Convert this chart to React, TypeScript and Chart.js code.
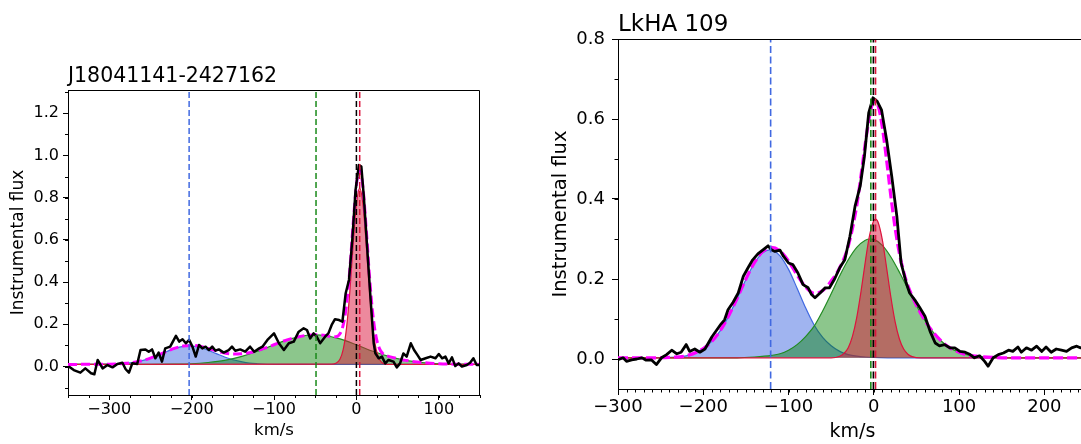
import React, { useEffect, useRef } from 'react';
import { Chart, registerables } from 'chart.js';

Chart.register(...registerables);

const FONT = '"DejaVu Sans", "Liberation Sans", sans-serif';

// ---------------- Left panel: J18041141-2427162 ----------------
const LEFT_TITLE = 'J18041141-2427162';
const LEFT_X_RANGE = [-350, 150];
const LEFT_Y_RANGE = [-0.135, 1.31];
const LEFT_X_TICKS = [-300, -200, -100, 0, 100];
const LEFT_Y_TICKS = [0, 0.2, 0.4, 0.6, 0.8, 1.0, 1.2];
const LEFT_BASELINE = 0.01;
// component centres: blue, green, black (rest), red
const LEFT_CENTERS = [-203, -49, 0, 4];

const LEFT_SPECTRUM = [
  [-349, 0.0], [-343, -0.017], [-335, -0.029], [-329, -0.009], [-322, -0.032], [-318, -0.037],
  [-314, 0.031], [-308, -0.009], [-302, 0.007], [-296, -0.004], [-290, 0.012], [-284, 0.018],
  [-280, -0.013], [-276, -0.029], [-272, 0.015], [-266, 0.012], [-262, 0.078], [-256, 0.081],
  [-252, 0.07], [-248, 0.081], [-244, 0.039], [-240, 0.066], [-236, 0.023], [-232, 0.086],
  [-226, 0.094], [-219, 0.145], [-215, 0.118], [-211, 0.129], [-207, 0.11], [-203, 0.126],
  [-199, 0.094], [-195, 0.047], [-191, 0.102], [-187, 0.086], [-183, 0.094], [-179, 0.078],
  [-175, 0.094], [-171, 0.075], [-167, 0.081], [-161, 0.066], [-155, 0.078], [-151, 0.094],
  [-147, 0.075], [-141, 0.081], [-135, 0.07], [-129, 0.094], [-124, 0.07], [-118, 0.086],
  [-114, 0.094], [-108, 0.126], [-100, 0.157], [-94, 0.11], [-88, 0.078], [-82, 0.11],
  [-76, 0.118], [-70, 0.165], [-64, 0.181], [-60, 0.173], [-56, 0.133], [-52, 0.157],
  [-48, 0.141], [-44, 0.11], [-38, 0.141], [-34, 0.157], [-30, 0.197], [-26, 0.224],
  [-21, 0.22], [-17, 0.212], [-13, 0.347], [-9, 0.41], [-5, 0.6], [-1, 0.837], [3, 0.955],
  [6, 0.947], [9, 0.805], [13, 0.568], [17, 0.331], [21, 0.11], [23, 0.062], [27, 0.039],
  [31, 0.047], [35, 0.015], [39, 0.031], [45, 0.023], [49, -0.004], [53, 0.015], [57, 0.062],
  [61, 0.047], [66, 0.11], [70, 0.078], [74, 0.055], [78, 0.031], [84, 0.039], [90, 0.047],
  [96, 0.039], [100, 0.059], [104, 0.039], [108, 0.047], [112, 0.015], [116, 0.043],
  [120, 0.002], [124, 0.015], [128, 0.0], [134, 0.007], [138, 0.018], [142, 0.039],
  [146, 0.007], [150, 0.007],
];

const LEFT_FIT = [
  [-350, 0.01], [-300, 0.011], [-280, 0.015], [-260, 0.028], [-250, 0.04], [-240, 0.055],
  [-230, 0.072], [-220, 0.087], [-210, 0.097], [-200, 0.1], [-190, 0.096], [-180, 0.086],
  [-170, 0.074], [-160, 0.064], [-150, 0.059], [-140, 0.06], [-130, 0.065], [-120, 0.075],
  [-110, 0.088], [-100, 0.103], [-90, 0.118], [-80, 0.131], [-70, 0.141], [-60, 0.148],
  [-50, 0.15], [-40, 0.148], [-30, 0.142], [-25, 0.141], [-20, 0.155], [-16, 0.197],
  [-12, 0.292], [-8, 0.458], [-4, 0.672], [0, 0.859], [4, 0.932], [8, 0.846], [12, 0.647],
  [16, 0.421], [20, 0.244], [24, 0.138], [28, 0.085], [32, 0.061], [36, 0.052], [40, 0.047],
  [50, 0.037], [60, 0.029], [70, 0.023], [80, 0.019], [100, 0.013], [120, 0.011], [150, 0.01],
];

const LEFT_BLUE = [
  [-350, 0.01], [-300, 0.011], [-280, 0.015], [-270, 0.02], [-260, 0.028], [-250, 0.04],
  [-240, 0.055], [-230, 0.071], [-220, 0.086], [-210, 0.095], [-200, 0.097], [-190, 0.09],
  [-180, 0.077], [-170, 0.061], [-160, 0.045], [-150, 0.032], [-140, 0.023], [-130, 0.016],
  [-120, 0.013], [-100, 0.01], [150, 0.01],
];

const LEFT_GREEN = [
  [-350, 0.01], [-250, 0.01], [-220, 0.011], [-200, 0.013], [-180, 0.019], [-160, 0.029],
  [-140, 0.047], [-120, 0.072], [-100, 0.103], [-80, 0.131], [-60, 0.148], [-50, 0.15],
  [-40, 0.148], [-20, 0.131], [0, 0.103], [20, 0.072], [40, 0.047], [60, 0.029], [80, 0.019],
  [100, 0.013], [120, 0.011], [150, 0.01],
];

const LEFT_RED = [
  [-350, 0.01], [-30, 0.011], [-25, 0.015], [-20, 0.034], [-16, 0.081], [-12, 0.182],
  [-8, 0.353], [-4, 0.573], [0, 0.766], [4, 0.845], [8, 0.766], [12, 0.573], [16, 0.353],
  [20, 0.182], [24, 0.081], [28, 0.034], [32, 0.015], [36, 0.011], [40, 0.01], [150, 0.01],
];

// ---------------- Right panel: LkHA 109 ----------------
const RIGHT_TITLE = 'LkHA 109';
const RIGHT_X_RANGE = [-300, 250];
const RIGHT_Y_RANGE = [-0.075, 0.8];
const RIGHT_X_TICKS = [-300, -200, -100, 0, 100, 200];
const RIGHT_Y_TICKS = [0, 0.2, 0.4, 0.6, 0.8];
const RIGHT_BASELINE = 0.003;
const RIGHT_CENTERS = [-121, -3.5, -0.5, 2];

const RIGHT_SPECTRUM = [
  [-300, -0.002], [-294, 0.003], [-290, -0.006], [-284, -0.002], [-278, 0.0], [-272, 0.003],
  [-267, -0.003], [-261, -0.002], [-255, -0.014], [-249, 0.003], [-243, 0.011], [-237, 0.022],
  [-231, 0.013], [-226, 0.017], [-220, 0.036], [-216, 0.019], [-210, 0.025], [-204, 0.017],
  [-198, 0.025], [-194, 0.04], [-190, 0.055], [-184, 0.073], [-179, 0.088], [-175, 0.098],
  [-171, 0.123], [-165, 0.142], [-159, 0.165], [-153, 0.207], [-147, 0.23], [-142, 0.248],
  [-136, 0.263], [-130, 0.273], [-124, 0.283], [-120, 0.273], [-116, 0.269], [-110, 0.272],
  [-106, 0.257], [-100, 0.24], [-95, 0.236], [-89, 0.215], [-83, 0.186], [-77, 0.178],
  [-73, 0.161], [-69, 0.153], [-63, 0.165], [-57, 0.178], [-52, 0.178], [-46, 0.2],
  [-40, 0.228], [-34, 0.248], [-28, 0.307], [-22, 0.382], [-16, 0.432], [-11, 0.507],
  [-6, 0.615], [-1, 0.653], [4, 0.644], [9, 0.623], [15, 0.548], [21, 0.457], [27, 0.357],
  [32, 0.24], [38, 0.19], [42, 0.165], [48, 0.148], [54, 0.128], [60, 0.107], [66, 0.069],
  [72, 0.04], [77, 0.033], [83, 0.036], [89, 0.028], [95, 0.028], [101, 0.019], [107, 0.017],
  [113, 0.011], [118, 0.003], [124, 0.008], [130, -0.006], [134, -0.018], [140, 0.003],
  [146, 0.011], [152, 0.015], [158, 0.022], [163, 0.019], [169, 0.03], [173, 0.017],
  [179, 0.028], [185, 0.022], [191, 0.032], [197, 0.019], [202, 0.03], [208, 0.017],
  [214, 0.025], [220, 0.022], [226, 0.019], [232, 0.028], [238, 0.032], [242, 0.028],
  [248, 0.03],
];

const RIGHT_FIT = [
  [-300, 0.003], [-260, 0.003], [-240, 0.004], [-220, 0.008], [-200, 0.026], [-190, 0.044],
  [-180, 0.071], [-170, 0.109], [-160, 0.153], [-150, 0.2], [-140, 0.241], [-130, 0.269],
  [-120, 0.279], [-110, 0.27], [-100, 0.245], [-90, 0.21], [-80, 0.18], [-70, 0.164],
  [-60, 0.171], [-50, 0.195], [-40, 0.228], [-30, 0.282], [-20, 0.384], [-15, 0.459],
  [-10, 0.539], [-5, 0.607], [0, 0.643], [5, 0.633], [10, 0.579], [15, 0.497], [20, 0.407],
  [25, 0.327], [30, 0.264], [35, 0.218], [40, 0.183], [45, 0.157], [50, 0.134], [60, 0.096],
  [70, 0.066], [80, 0.043], [90, 0.027], [100, 0.017], [110, 0.01], [120, 0.007],
  [140, 0.004], [160, 0.003], [250, 0.003],
];

const RIGHT_BLUE = [
  [-300, 0.003], [-240, 0.004], [-220, 0.008], [-200, 0.026], [-190, 0.044], [-180, 0.071],
  [-170, 0.108], [-160, 0.153], [-150, 0.199], [-140, 0.24], [-130, 0.266], [-122, 0.273],
  [-110, 0.258], [-100, 0.224], [-90, 0.177], [-80, 0.128], [-70, 0.085], [-60, 0.054],
  [-50, 0.033], [-40, 0.019], [-30, 0.011], [-20, 0.007], [-10, 0.005], [0, 0.004],
  [20, 0.003], [250, 0.003],
];

const RIGHT_GREEN = [
  [-300, 0.003], [-160, 0.003], [-140, 0.005], [-120, 0.009], [-110, 0.013], [-100, 0.022],
  [-90, 0.036], [-80, 0.056], [-70, 0.082], [-60, 0.12], [-50, 0.163], [-40, 0.208],
  [-30, 0.248], [-20, 0.279], [-10, 0.297], [-4, 0.3], [0, 0.299], [10, 0.284], [20, 0.255],
  [30, 0.217], [40, 0.175], [50, 0.133], [60, 0.096], [70, 0.066], [80, 0.043], [90, 0.027],
  [100, 0.017], [110, 0.01], [120, 0.007], [140, 0.004], [160, 0.003], [250, 0.003],
];

const RIGHT_RED = [
  [-300, 0.003], [-50, 0.003], [-40, 0.007], [-35, 0.014], [-30, 0.028], [-25, 0.057],
  [-20, 0.104], [-15, 0.169], [-10, 0.243], [-5, 0.309], [0, 0.346], [2, 0.35], [5, 0.342],
  [10, 0.298], [15, 0.228], [20, 0.155], [25, 0.093], [30, 0.05], [35, 0.025], [40, 0.012],
  [45, 0.006], [55, 0.003], [250, 0.003],
];

// ---------------- styling ----------------
const COLORS = {
  blue: '#4169E1',
  blueFill: 'rgba(65,105,225,0.5)',
  green: '#228B22',
  greenFill: 'rgba(0,128,0,0.45)',
  red: '#DC143C',
  redFill: 'rgba(220,20,60,0.5)',
  fit: '#FF00FF',
  data: '#000000',
};
const V_COLORS = [COLORS.blue, '#1a8a1a', '#000000', COLORS.red];

const LEFT_STYLE = {
  canvasLeft: 0, canvasWidth: 500,
  padTop: 90, padRight: 20, yAxisWidth: 68, xAxisHeight: 49,
  tickSize: 16, labelSize: 16.5, ylabelSize: 17, titleSize: 20.5, titleBaseline: 81.5,
  majorLen: 5, minorLen: 3, xTickPad: 0, yTickPad: 4, xTitlePad: 3, yTitlePad: 8,
  xMinor: 25, yMinor: 0.1,
  dataWidth: 2.5, fitWidth: 3, fitDash: [9, 4], vWidth: 1.5, vDash: [6, 3],
};
const RIGHT_STYLE = {
  canvasLeft: 540, canvasWidth: 560,
  padTop: 39, padRight: 13, yAxisWidth: 78, xAxisHeight: 55,
  tickSize: 18, labelSize: 19, ylabelSize: 19.5, titleSize: 23, titleBaseline: 31,
  majorLen: 6, minorLen: 3.5, xTickPad: 1.5, yTickPad: 7, xTitlePad: 1, yTitlePad: 9,
  xMinor: 10, yMinor: 0.1,
  dataWidth: 2.8, fitWidth: 3.2, fitDash: [10, 4], vWidth: 1.6, vDash: [7, 3.5],
};

const PANELS = [
  {
    title: LEFT_TITLE, xRange: LEFT_X_RANGE, yRange: LEFT_Y_RANGE, xTicks: LEFT_X_TICKS,
    yTicks: LEFT_Y_TICKS, baseline: LEFT_BASELINE, centers: LEFT_CENTERS,
    spectrum: LEFT_SPECTRUM, fit: LEFT_FIT, blue: LEFT_BLUE, green: LEFT_GREEN, red: LEFT_RED,
    s: LEFT_STYLE,
  },
  {
    title: RIGHT_TITLE, xRange: RIGHT_X_RANGE, yRange: RIGHT_Y_RANGE, xTicks: RIGHT_X_TICKS,
    yTicks: RIGHT_Y_TICKS, baseline: RIGHT_BASELINE, centers: RIGHT_CENTERS,
    spectrum: RIGHT_SPECTRUM, fit: RIGHT_FIT, blue: RIGHT_BLUE, green: RIGHT_GREEN, red: RIGHT_RED,
    s: RIGHT_STYLE,
  },
];

const toXY = (pts: number[][]) => pts.map(([x, y]) => ({ x, y }));
const fmtX = (v: number) => (v < 0 ? '\u2212' + Math.abs(v) : String(v));
const fmtY = (v: number) => Number(v).toFixed(1);

const framePlugin = {
  id: 'frameAndMinor',
  afterDraw(chart: any, _args: any, opts: any) {
    const { ctx, chartArea, scales } = chart;
    const { left, right, top, bottom } = chartArea;
    ctx.save();
    ctx.strokeStyle = '#000';
    ctx.lineWidth = 1;
    const t = Math.round(top) + 0.5;
    const r = Math.round(right) - 0.5;
    ctx.beginPath();
    ctx.moveTo(left, t);
    ctx.lineTo(r, t);
    ctx.lineTo(r, bottom);
    ctx.stroke();
    // minor ticks
    const xs = scales.x;
    const ys = scales.y;
    const bx = Math.round(bottom);
    for (let i = Math.ceil(xs.min / opts.xStep); i * opts.xStep <= xs.max + 1e-9; i++) {
      const px = Math.round(xs.getPixelForValue(i * opts.xStep)) + 0.5;
      ctx.beginPath();
      ctx.moveTo(px, bx);
      ctx.lineTo(px, bx + opts.len);
      ctx.stroke();
    }
    const lx = Math.round(left);
    for (let i = Math.ceil(ys.min / opts.yStep - 1e-9); i * opts.yStep <= ys.max + 1e-9; i++) {
      const py = Math.round(ys.getPixelForValue(i * opts.yStep)) + 0.5;
      ctx.beginPath();
      ctx.moveTo(lx, py);
      ctx.lineTo(lx - opts.len, py);
      ctx.stroke();
    }
    // panel title
    ctx.fillStyle = '#000';
    ctx.font = `${opts.titleSize}px ${FONT}`;
    ctx.textAlign = 'left';
    ctx.textBaseline = 'alphabetic';
    ctx.fillText(opts.title, left, opts.titleBaseline);
    ctx.restore();
  },
};

function buildConfig(p: any) {
  const s = p.s;
  const [xMin, xMax] = p.xRange;
  const [yMin, yMax] = p.yRange;
  const comp = (pts: number[][], line: string, fill: string, order: number) => ({
    data: toXY(pts),
    borderColor: line,
    backgroundColor: fill,
    borderWidth: 1.2,
    fill: { value: p.baseline },
    pointRadius: 0,
    cubicInterpolationMode: 'monotone',
    order,
  });
  const datasets: any[] = [
    comp(p.blue, COLORS.blue, COLORS.blueFill, 5),
    comp(p.green, COLORS.green, COLORS.greenFill, 4),
    comp(p.red, COLORS.red, COLORS.redFill, 3),
    {
      data: toXY(p.fit), borderColor: COLORS.fit, borderWidth: s.fitWidth, borderDash: s.fitDash,
      fill: false, pointRadius: 0, cubicInterpolationMode: 'monotone', order: 2,
    },
    {
      data: toXY(p.spectrum), borderColor: COLORS.data, borderWidth: s.dataWidth,
      fill: false, pointRadius: 0, tension: 0, order: 1, borderJoinStyle: 'round',
    },
    ...p.centers.map((c: number, i: number) => ({
      data: [{ x: c, y: yMin }, { x: c, y: yMax }],
      borderColor: V_COLORS[i], borderWidth: s.vWidth, borderDash: s.vDash,
      fill: false, pointRadius: 0, order: 0,
    })),
  ];

  return {
    type: 'line',
    data: { datasets },
    plugins: [framePlugin],
    options: {
      responsive: false,
      animation: false,
      events: [],
      devicePixelRatio: 1,
      layout: { padding: { left: 0, top: s.padTop, right: s.padRight, bottom: 0 } },
      plugins: {
        legend: { display: false },
        tooltip: { enabled: false },
        frameAndMinor: {
          xStep: s.xMinor, yStep: s.yMinor, len: s.minorLen,
          title: p.title, titleSize: s.titleSize, titleBaseline: s.titleBaseline,
        },
      },
      scales: {
        x: {
          type: 'linear',
          min: xMin,
          max: xMax,
          afterBuildTicks: (a: any) => { a.ticks = p.xTicks.map((value: number) => ({ value })); },
          afterFit: (a: any) => { a.height = s.xAxisHeight; },
          ticks: {
            color: '#000', font: { family: FONT, size: s.tickSize }, padding: s.xTickPad,
            maxRotation: 0, autoSkip: false, callback: (v: any) => fmtX(Number(v)),
          },
          grid: { drawOnChartArea: false, drawTicks: true, tickLength: s.majorLen, tickColor: '#000', tickWidth: 1 },
          border: { display: true, color: '#000', width: 1 },
          title: {
            display: true, text: 'km/s', color: '#000',
            font: { family: FONT, size: s.labelSize }, padding: { top: 0, bottom: s.xTitlePad },
          },
        },
        y: {
          type: 'linear',
          min: yMin,
          max: yMax,
          afterBuildTicks: (a: any) => { a.ticks = p.yTicks.map((value: number) => ({ value })); },
          afterFit: (a: any) => { a.width = s.yAxisWidth; },
          ticks: {
            color: '#000', font: { family: FONT, size: s.tickSize }, padding: s.yTickPad,
            autoSkip: false, callback: (v: any) => fmtY(Number(v)),
          },
          grid: { drawOnChartArea: false, drawTicks: true, tickLength: s.majorLen, tickColor: '#000', tickWidth: 1 },
          border: { display: true, color: '#000', width: 1 },
          title: {
            display: true, text: 'Instrumental flux', color: '#000',
            font: { family: FONT, size: s.ylabelSize }, padding: { top: s.yTitlePad, bottom: 0 },
          },
        },
      },
    },
  };
}

function Panel({ panel }: { panel: any }) {
  const ref = useRef<HTMLCanvasElement>(null);
  useEffect(() => {
    if (!ref.current) return;
    const chart = new Chart(ref.current, buildConfig(panel) as any);
    return () => chart.destroy();
  }, [panel]);
  return (
    <div style={{ position: 'absolute', left: panel.s.canvasLeft, top: 0, width: panel.s.canvasWidth, height: 444 }}>
      <canvas ref={ref} width={panel.s.canvasWidth} height={444} style={{ display: 'block' }} />
    </div>
  );
}

export default function App() {
  return (
    <div
      style={{
        position: 'absolute', left: 0, top: 0, width: 1081, height: 444,
        overflow: 'hidden', background: '#fff',
      }}
    >
      {PANELS.map((p, i) => (
        <Panel key={i} panel={p} />
      ))}
    </div>
  );
}
